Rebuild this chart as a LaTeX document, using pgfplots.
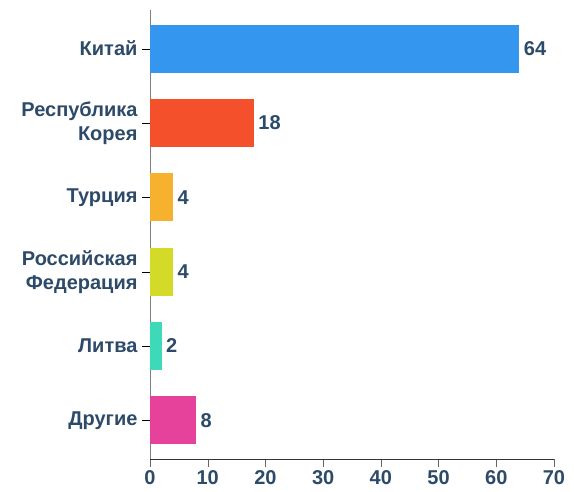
\documentclass[border=0pt]{standalone}
\usepackage{pgfplots}
\pgfplotsset{compat=1.18}
\usepackage{fontspec}
\setmainfont{Liberation Sans}
\definecolor{txt}{HTML}{2D4A69}
\definecolor{cA}{HTML}{3496EE}
\definecolor{cB}{HTML}{F5502C}
\definecolor{cC}{HTML}{F6B22F}
\definecolor{cD}{HTML}{D3DA27}
\definecolor{cE}{HTML}{3ED9B8}
\definecolor{cF}{HTML}{E6419B}
\begin{document}
\begin{tikzpicture}[font=\fontsize{20}{24}\selectfont\bfseries]
\begin{axis}[
  scale only axis,
  width=404pt, height=449pt,
  xbar, bar width=48pt, bar shift=0pt,
  xmin=0, xmax=70, ymin=-0.52, ymax=5.52,
  y dir=reverse,
  xtick={0,10,...,70},
  ytick={0,1,2,3,4,5},
  yticklabels={Китай,{Республика\\Корея},Турция,{Российская\\Федерация},Литва,Другие},
  yticklabel style={align=right, text=txt, font=\fontsize{20}{24}\selectfont\bfseries, xshift=-1pt},
  xticklabel style={text=txt, font=\fontsize{20}{24}\selectfont\bfseries},
  /pgf/number format/assume math mode=true,
  axis x line=bottom, axis y line=left,
  x axis line style={-, draw=black!80},
  y axis line style={-, draw=black!50},
  tick align=outside, major tick length=8pt,
  xtick style={draw=black!60},
  ytick style={draw=black},
  nodes near coords,
  nodes near coords style={text=txt, anchor=west, xshift=1pt, font=\fontsize{20}{24}\selectfont\bfseries},
  clip=false,
]
\addplot[fill=cA, draw=none] coordinates {(64,0)};
\addplot[fill=cB, draw=none] coordinates {(18,1)};
\addplot[fill=cC, draw=none] coordinates {(4,2)};
\addplot[fill=cD, draw=none] coordinates {(4,3)};
\addplot[fill=cE, draw=none] coordinates {(2,4)};
\addplot[fill=cF, draw=none] coordinates {(8,5)};
\end{axis}
\path ([shift={(-150pt,-33pt)}]current axis.south west) rectangle ([shift={(424pt,459pt)}]current axis.south west);
\end{tikzpicture}
\end{document}
